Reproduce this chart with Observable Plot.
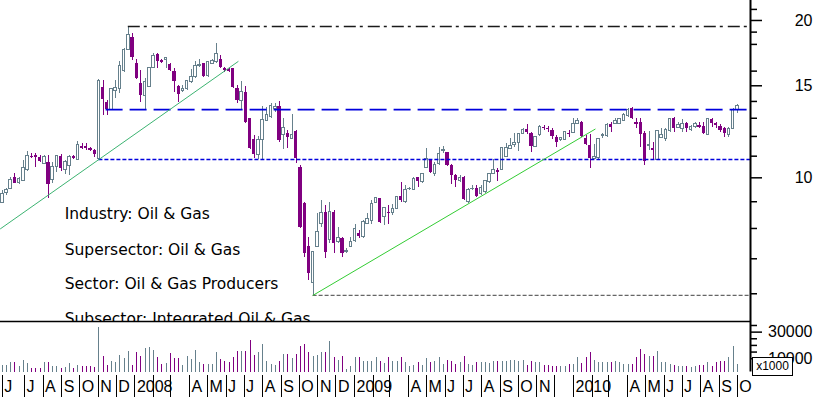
<!DOCTYPE html>
<html>
<head>
<meta charset="utf-8">
<script src="https://cdn.jsdelivr.net/npm/d3@7"></script>
<script src="https://cdn.jsdelivr.net/npm/@observablehq/plot@0.6"></script>
<style>
  html, body { margin: 0; padding: 0; background: #ffffff; }
  #chart { position: relative; width: 817px; height: 397px; overflow: hidden; background: #ffffff; font-family: "Liberation Sans", Arial, sans-serif; }
  #chart > svg { position: absolute; left: 0; display: block; }
  #unitbox { position: absolute; left: 752px; top: 357px; width: 39px; height: 17px; border: 1px solid #000; background: #fff;
             font: 12px "Liberation Sans", Arial, sans-serif; line-height: 17px; text-align: center; color: #000; }
</style>
</head>
<body>
<div id="chart"></div>
<script>
// ---------- data (weekly bars, first bar dated below) ----------
const firstWeek = "2007-05-25";
const open = [8.94,9.35,9.54,10.00,9.76,9.87,10.33,10.98,11.03,10.95,10.65,10.68,9.91,10.48,10.99,10.36,10.52,10.98,10.82,11.48,11.48,11.40,11.28,10.87,14.91,13.95,13.49,14.69,14.80,15.99,17.57,18.53,16.57,15.17,14.31,14.95,16.23,17.19,16.77,16.77,16.45,15.99,14.95,14.64,14.80,15.24,15.57,16.33,16.52,15.69,16.52,16.64,16.82,16.21,16.11,16.16,14.84,14.00,14.58,12.97,11.82,11.08,11.82,12.87,13.06,13.55,13.69,12.05,12.14,11.88,12.28,10.48,8.94,7.39,6.28,7.37,8.16,8.60,7.59,8.60,7.53,7.65,7.21,7.37,7.57,7.81,7.70,8.17,8.26,8.94,9.11,8.41,8.57,8.56,8.73,9.21,8.98,9.51,9.49,10.00,9.81,10.44,10.79,10.15,10.61,11.25,11.17,10.56,10.10,9.85,10.03,8.98,9.51,9.53,9.32,9.39,9.81,10.18,10.33,10.36,10.98,11.36,11.53,11.65,12.14,12.36,12.17,11.45,12.05,12.49,12.41,12.32,11.96,11.79,11.82,12.17,12.17,12.68,12.78,11.91,11.53,10.87,10.90,12.01,12.01,12.63,12.68,12.68,12.87,13.12,13.55,12.78,12.75,12.14,11.49,11.40,10.84,11.91,11.84,12.27,12.97,12.45,12.41,12.68,12.32,12.50,12.59,12.55,12.09,12.93,12.68,12.55,12.41,12.05,12.41,13.51];
const high = [9.46,9.53,10.00,10.19,10.00,10.79,11.23,11.11,11.11,11.03,11.03,11.03,10.71,11.03,11.06,10.79,11.03,11.03,11.75,11.62,11.62,11.45,11.32,15.40,15.35,14.06,14.84,15.35,16.72,17.65,19.47,18.86,16.82,16.04,15.46,16.28,17.27,17.31,16.82,17.01,16.57,16.16,15.02,15.02,15.35,16.09,16.72,16.82,16.57,16.72,16.82,18.04,17.14,16.28,16.16,16.21,15.02,15.28,14.95,12.97,12.05,12.00,13.69,13.65,13.85,13.85,14.00,12.97,12.32,13.20,12.32,10.56,8.97,7.69,7.23,8.53,9.05,8.85,8.98,8.66,8.04,7.70,7.31,7.70,8.13,7.93,8.29,8.53,9.05,9.18,9.14,8.78,8.85,8.88,9.21,9.81,9.67,9.57,10.00,10.03,10.21,11.36,10.82,10.71,11.45,11.48,11.20,10.61,10.15,10.10,10.06,9.53,9.67,9.67,9.67,9.88,10.21,10.82,10.41,11.45,11.62,11.88,12.17,12.17,12.41,12.65,12.23,12.00,12.59,12.59,12.54,12.41,12.05,11.96,12.27,12.32,12.97,12.97,12.82,12.05,12.09,11.57,11.88,12.14,12.68,12.78,12.97,13.01,13.26,13.59,13.65,12.97,12.97,12.27,12.27,11.70,12.32,12.41,12.41,12.97,13.06,12.75,12.93,12.75,12.59,12.78,12.75,12.78,12.97,12.97,12.78,12.63,12.50,12.50,13.55,13.80];
const low = [8.92,9.25,9.51,9.74,9.71,9.84,10.30,10.87,10.48,10.71,10.64,9.12,9.74,10.25,10.30,10.15,10.10,10.82,10.80,11.32,11.28,11.25,10.95,10.83,13.16,13.16,13.45,14.16,14.52,15.92,17.55,16.77,15.40,13.95,13.49,14.91,16.16,16.16,16.57,16.16,15.99,14.58,13.95,14.58,14.69,15.13,15.46,16.28,15.57,15.57,16.45,16.57,16.16,15.92,15.92,14.80,13.89,13.49,12.72,11.32,10.87,10.82,10.82,12.83,12.97,13.35,11.70,11.32,11.36,11.86,10.64,8.00,7.05,6.36,5.96,7.35,8.03,7.00,7.48,7.16,7.48,7.05,7.17,7.35,7.53,7.65,7.65,8.13,8.14,8.92,8.19,8.10,8.14,8.47,8.69,8.98,8.94,9.46,9.46,9.57,9.77,10.41,10.21,10.06,10.56,11.12,10.53,9.71,9.57,9.81,9.05,8.94,9.46,9.18,9.25,9.35,9.77,10.15,9.85,10.33,10.95,11.32,11.45,11.25,12.10,12.10,11.16,11.42,12.00,12.32,12.23,11.84,11.45,11.73,11.79,11.93,12.14,12.63,11.96,11.53,10.41,10.84,10.79,11.91,11.96,12.23,12.63,12.63,12.82,13.06,12.93,12.41,11.45,10.56,11.28,10.84,10.79,11.88,11.73,12.23,12.23,12.41,12.20,12.23,12.27,12.45,12.41,12.09,12.05,12.50,12.41,12.23,11.96,11.96,12.36,13.26];
const close = [9.32,9.49,9.92,9.76,9.96,10.44,11.00,10.92,10.92,10.76,10.94,9.70,10.48,10.99,10.44,10.71,10.95,10.87,11.57,11.40,11.40,11.28,11.08,15.30,14.10,13.49,14.80,14.84,16.33,17.57,18.72,16.97,15.51,14.37,15.28,16.23,17.14,16.72,16.64,16.93,16.04,15.26,14.43,14.80,15.30,15.57,16.33,16.45,15.62,16.64,16.70,17.22,16.28,16.04,15.99,14.86,14.06,14.58,12.78,11.36,11.08,11.79,12.91,13.16,13.75,13.69,11.79,12.47,11.93,12.05,10.87,8.04,7.17,6.55,7.20,7.87,8.56,7.21,8.60,7.48,7.68,7.17,7.24,7.53,7.99,7.73,8.22,8.35,8.92,9.16,8.22,8.76,8.53,8.73,9.18,9.05,9.49,9.53,9.96,9.85,10.15,10.87,10.25,10.56,11.12,11.32,10.56,10.10,9.88,10.00,9.08,9.49,9.53,9.21,9.57,9.85,10.15,10.36,10.25,11.41,11.41,11.48,11.65,12.14,12.32,12.23,11.49,11.96,12.49,12.41,12.36,12.00,11.70,11.91,12.23,12.12,12.68,12.87,12.01,11.57,10.90,10.94,11.84,12.05,12.63,12.49,12.87,12.97,13.16,13.51,13.01,12.63,12.09,10.75,11.53,11.28,12.27,12.09,12.32,12.93,12.41,12.63,12.68,12.41,12.49,12.68,12.49,12.14,12.93,12.68,12.59,12.32,12.14,12.41,13.51,13.71];
const volume = [5000,5000,7000,7000,4000,9000,6250,2750,2750,2750,7500,7500,4500,4500,2500,3250,6500,2500,5000,4000,4500,4500,3250,33750,12000,5000,8250,7500,12500,10000,15750,5000,14500,11500,17500,18250,16500,10750,5750,6500,13750,10250,10000,5250,11500,9500,16500,7000,5750,5750,5750,15000,9500,8250,7000,10750,15750,15750,15750,24000,12750,14500,20750,8250,5750,5000,8250,13250,13250,10000,13250,19500,20750,14500,12000,12500,14500,14500,23250,10750,9000,11500,2000,4000,10750,10750,8250,8250,8250,10750,8250,6500,10750,8250,8250,10750,7000,4500,5000,7500,5000,10000,7000,8250,10750,5750,9000,8250,5750,7000,11500,5750,5000,7000,7500,7000,6250,8250,8250,8250,8250,9000,9000,8250,8750,5250,8250,7000,7000,5000,5000,4500,4500,4500,4500,5750,5750,10750,6500,10750,14500,8750,7500,7500,7000,7500,8000,7500,5750,5750,5750,10750,17000,13250,11500,11500,15750,7500,7000,5750,5000,4500,4500,4500,3250,4500,5000,5000,7500,4500,7500,8250,8250,10750,19500,5750];

// horizontal reference levels (value, first date)
const levelValues = [19.47, 13.51, 10.84, 5.96];
const levelStarts = ["2007-12-21", "2007-11-14", "2007-11-02", "2008-10-24"];
const levelColors = ["#1a1a1a", "#0000dd", "#0000dd", "#666666"];
const levelDashes = ["12,4,3,5", "17,7", "4,2", "4,2"];
const levelWidths = [1.6, 1.8, 1.6, 1.2];

// trend lines (two points each)
const trend1Dates = ["2007-05-22", "2008-06-21"];
const trend1Values = [7.99, 16.69];
const trend2Dates = ["2008-10-24", "2010-02-06"];
const trend2Values = [5.96, 12.39];

// classification labels
const labelTexts = ["Industry: Oil & Gas", "Supersector: Oil & Gas", "Sector: Oil & Gas Producers", "Subsector: Integrated Oil & Gas"];
const labelDate = "2007-09-06";
const labelValues = [8.51, 7.29, 6.25, 5.36];

// axis ticks
const priceMajor = [10, 15, 20];
const priceMinor = [6, 7, 8, 9, 11, 12, 13, 14, 16, 18, 19, 21];
const volMajor = [10000, 30000];
const volMinor = [15000, 20000, 25000, 35000];

// month dividers and labels
const monthDates = ["2007-05-25","2007-07-01","2007-08-01","2007-09-01","2007-10-01","2007-11-01","2007-12-01",
  "2008-01-01","2008-02-01","2008-03-01","2008-04-01","2008-05-01","2008-06-01","2008-07-01","2008-08-01","2008-09-01","2008-10-01","2008-11-01","2008-12-01",
  "2009-01-01","2009-02-01","2009-03-01","2009-04-01","2009-05-01","2009-06-01","2009-07-01","2009-08-01","2009-09-01","2009-10-01","2009-11-01","2009-12-01",
  "2010-01-01","2010-02-01","2010-03-01","2010-04-01","2010-05-01","2010-06-01","2010-07-01","2010-08-01","2010-09-01","2010-10-01"];
const monthLabels = ["J","J","A","S","O","N","D",
  "2008","","","A","M","J","J","A","S","O","N","D",
  "2009","","","A","M","J","J","A","S","O","N","",
  "2010","","","A","M","J","J","A","S","O"];

// ---------- build ----------
const GREY = "#66808c", PURPLE = "#800080";
const parse = d3.utcParse("%Y-%m-%d");
const xDomain = [parse("2007-05-22"), parse("2010-10-23")];
const start = parse(firstWeek);
const candles = open.map((o, i) => ({
  date: d3.utcDay.offset(start, 7 * i),
  open: o, high: high[i], low: low[i], close: close[i], volume: volume[i],
  up: close[i] >= o
}));
const ups = candles.filter(d => d.up), downs = candles.filter(d => !d.up);
const levels = levelValues.map((v, i) => ({value: v, from: parse(levelStarts[i]), to: xDomain[1], color: levelColors[i], dash: levelDashes[i], width: levelWidths[i]}));
const trend1 = trend1Dates.map((d, i) => ({date: parse(d), value: trend1Values[i]}));
const trend2 = trend2Dates.map((d, i) => ({date: parse(d), value: trend2Values[i]}));
const labels = labelTexts.map((t, i) => ({text: t, date: parse(labelDate), value: labelValues[i]}));
const months = monthDates.map((d, i) => ({date: parse(d), label: monthLabels[i]}));

const common = {width: 817, marginLeft: 0, marginRight: 67};
const xOpt = {type: "utc", domain: xDomain, axis: null};

const priceChart = Plot.plot({
  ...common, height: 321, marginTop: 0, marginBottom: 0,
  style: {overflow: "hidden", background: "transparent"},
  x: xOpt,
  y: {type: "log", domain: [5.31, 21.84], axis: null},
  marks: [
    Plot.text(labels, {x: "date", y: "value", text: "text", textAnchor: "start", fontFamily: "DejaVu Sans", fontSize: 15.5, fill: "#000"}),
    Plot.ruleX(candles, {x: "date", y1: "low", y2: "high", stroke: d => d.up ? GREY : PURPLE, strokeWidth: 1, shapeRendering: "crispEdges"}),
    Plot.rect(downs, {x1: d => d3.utcHour.offset(d.date, -66), x2: d => d3.utcHour.offset(d.date, 66), y1: "open", y2: "close", fill: PURPLE, shapeRendering: "crispEdges"}),
    Plot.rect(ups, {x1: d => d3.utcHour.offset(d.date, -50), x2: d => d3.utcHour.offset(d.date, 50), y1: "open", y2: "close", fill: "#fff", stroke: GREY, strokeWidth: 1, shapeRendering: "crispEdges"}),
    ...levels.map(l => Plot.ruleY([l], {y: "value", x1: "from", x2: "to", stroke: l.color, strokeDasharray: l.dash, strokeWidth: l.width})),
    Plot.line(trend1, {x: "date", y: "value", stroke: "#3cb371", strokeWidth: 1}),
    Plot.line(trend2, {x: "date", y: "value", stroke: "#33cc33", strokeWidth: 1}),
    Plot.axisY({anchor: "right", ticks: priceMinor, tickSize: 6, tickFormat: () => "", label: null, strokeWidth: 1.5}),
    Plot.axisY({anchor: "right", ticks: priceMajor, tickSize: 11, tickPadding: 51, textAnchor: "end", fontSize: 16, fontFamily: "Liberation Sans", label: null, strokeWidth: 1.5, fill: "#000"}),
    Plot.ruleX([xDomain[1]], {stroke: "#000", strokeWidth: 2})
  ]
});

const volumeChart = Plot.plot({
  ...common, height: 55, marginTop: 1, marginBottom: 3.5,
  style: {overflow: "visible", background: "transparent"},
  x: xOpt,
  y: {domain: [0, 38000], axis: null},
  marks: [
    Plot.ruleX(candles, {x: "date", y: "volume", stroke: d => d.up ? GREY : PURPLE, strokeWidth: 1, shapeRendering: "crispEdges"}),
    Plot.ruleY([38000], {stroke: "#000", strokeWidth: 1.5}),
    Plot.axisY({anchor: "right", ticks: volMinor, tickSize: 6, tickFormat: () => "", label: null, strokeWidth: 1.5}),
    Plot.axisY({anchor: "right", ticks: volMajor, tickSize: 11, tickPadding: 51, textAnchor: "end", fontSize: 16, fontFamily: "Liberation Sans", label: null, strokeWidth: 1.5, fill: "#000", tickFormat: d => String(d)}),
    Plot.ruleX([xDomain[1]], {stroke: "#000", strokeWidth: 2})
  ]
});

const dateChart = Plot.plot({
  ...common, height: 22, marginTop: 0, marginBottom: 0,
  style: {overflow: "visible", background: "transparent"},
  x: xOpt,
  marks: [
    Plot.ruleX(months, {x: "date", stroke: "#000", strokeWidth: 1, shapeRendering: "crispEdges"}),
    Plot.text(months, {x: "date", text: "label", frameAnchor: "middle", textAnchor: "start", dx: 2, fontSize: 16, fontFamily: "Liberation Sans", fill: "#000"})
  ]
});

const root = document.getElementById("chart");
priceChart.style.top = "0px";
volumeChart.style.top = "320px";
dateChart.style.top = "375px";
root.appendChild(priceChart);
root.appendChild(volumeChart);
root.appendChild(dateChart);
const box = document.createElement("div");
box.id = "unitbox";
box.textContent = "x1000";
root.appendChild(box);
</script>
</body>
</html>
